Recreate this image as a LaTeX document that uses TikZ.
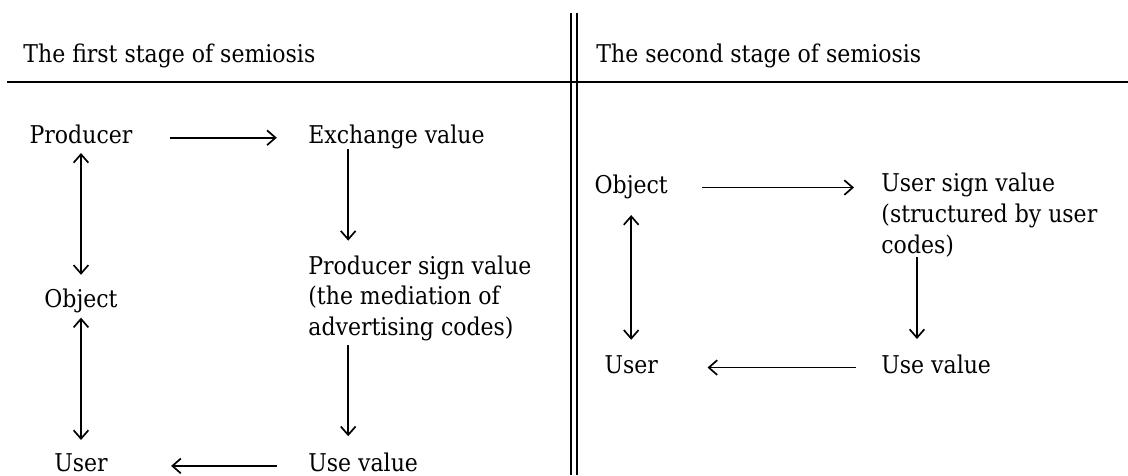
\documentclass[tikz,border=0pt]{standalone}
\usepackage{fontspec}
\setmainfont{DejaVu Serif Condensed}
\usepackage{tikz}
\usetikzlibrary{arrows.meta,positioning}
\tikzset{>={Straight Barb[length=4pt,width=7pt]}}

\begin{document}
\begin{tikzpicture}[
  every node/.style={inner sep=0pt, font=\fontsize{11.6}{14.5}\selectfont},
  term/.style={anchor=base},
  sign/.style={anchor=base west, align=left},
  flow/.style={->, line width=0.8pt},
  link/.style={<->, line width=0.8pt},
  rule/.style={line width=1.3pt}
]
  % --- Frame: heading rule and the double divider ---
  \useasboundingbox (0,0) rectangle (18.8,7.917);
  \draw[rule] (0.12,6.55) -- (18.8,6.55);
  \draw[line width=1.1pt] (9.517,7.70) -- (9.517,0);
  \draw[line width=1.1pt] (9.617,7.70) -- (9.617,0);

  % --- Headings ---
  \node[anchor=base west] (head1) at (0.383,6.87) {The first stage of semiosis};
  \node[anchor=base west] (head2) at (9.933,6.87) {The second stage of semiosis};

  % --- First stage ---
  % (base of a multi-line node = its last line)
  \node[term] (prod) at (1.35,5.53) {Producer};
  \node[term] (obj1) at (1.35,2.8) {Object};
  \node[term] (user1) at (1.35,0.06) {User};
  \node[sign] (exch) at (5.133,5.53) {Exchange value};
  \node[sign] (psv) at (5.133,2.33) {Producer sign value\\(the mediation of\\advertising codes)};
  \node[sign] (use1) at (5.133,0.06) {Use value};

  \draw[flow, shorten <=0.62cm, shorten >=0.52cm] (prod.mid east) -- (exch.mid west);
  \draw[link, shorten <=0.15cm, shorten >=0.22cm] (prod.south) -- (obj1.north);
  \draw[link, shorten <=0.08cm, shorten >=0.22cm] (obj1.south) -- (user1.north);
  \draw[flow, shorten >=0.24cm] ([xshift=0.67cm]exch.south west) -- ([xshift=0.67cm]psv.north west);
  \draw[flow, shorten <=0.07cm, shorten >=0.27cm] ([xshift=0.67cm]psv.south west) -- ([xshift=0.67cm]use1.north west);
  \draw[flow, shorten <=0.52cm, shorten >=1.05cm] (use1.mid west) -- (user1.mid east);

  % --- Second stage ---
  \node[term] (obj2) at (10.52,4.7) {Object};
  \node[term] (user2) at (10.52,1.7) {User};
  \node[sign] (usv) at (14.683,3.7) {User sign value\\(structured by user\\codes)};
  \node[sign] (use2) at (14.683,1.7) {Use value};

  \draw[flow, shorten <=0.57cm, shorten >=0.45cm] (obj2.mid east) -- (obj2.mid east -| usv.west);
  \draw[link, shorten <=0.27cm, shorten >=0.25cm] (obj2.south) -- (user2.north);
  \draw[flow, shorten >=0.25cm] ([xshift=0.6cm]usv.south west) -- ([xshift=0.6cm]use2.north west);
  \draw[flow, shorten <=0.42cm, shorten >=0.82cm] (use2.mid west) -- (user2.mid east);
\end{tikzpicture}
\end{document}
